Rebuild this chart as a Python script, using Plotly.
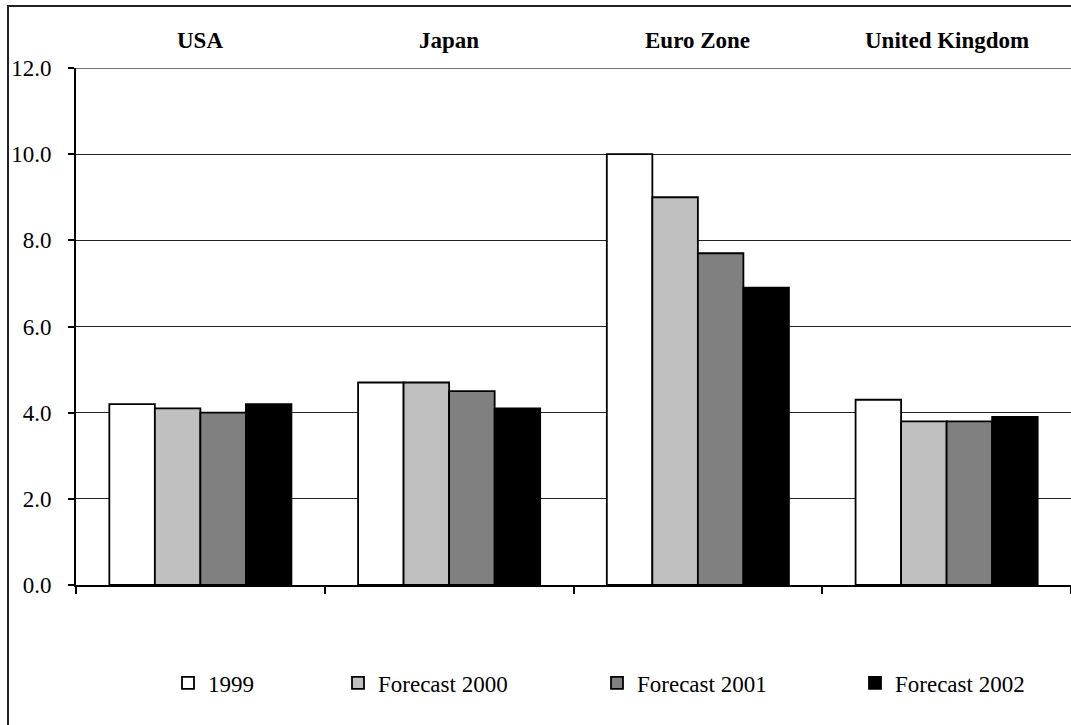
import plotly.graph_objects as go

# Regions and series values
regions = ["USA", "Japan", "Euro Zone", "United Kingdom"]
series_names = ["1999", "Forecast 2000", "Forecast 2001", "Forecast 2002"]
values_1999 = [4.2, 4.7, 10.0, 4.3]
values_2000 = [4.1, 4.7, 9.0, 3.8]
values_2001 = [4.0, 4.5, 7.7, 3.8]
values_2002 = [4.2, 4.1, 6.9, 3.9]
series_values = [values_1999, values_2000, values_2001, values_2002]
series_colors = ["#FFFFFF", "#C0C0C0", "#808080", "#000000"]
y_ticks = [0, 2, 4, 6, 8, 10, 12]

W, H = 1071, 725
SERIF = "Liberation Serif, Times New Roman, serif"

legend_names = ["legend", "legend2", "legend3", "legend4"]
legend_x = [168, 338, 597, 855]  # left edge in px

fig = go.Figure()
for name, vals, col, lg in zip(series_names, series_values, series_colors, legend_names):
    fig.add_trace(go.Bar(
        x=regions, y=vals, name=name,
        marker=dict(color=col, line=dict(color="#000000", width=1.8)),
        legend=lg,
    ))

layout_legends = {}
for lg, lx in zip(legend_names, legend_x):
    layout_legends[lg] = dict(
        x=lx / W, xanchor="left", y=1 - 683 / H, yanchor="middle",
        orientation="h", bgcolor="rgba(0,0,0,0)",
        font=dict(family=SERIF, size=23, color="#000000"),
        itemwidth=30,
    )

fig.update_layout(
    width=W, height=H,
    margin=dict(l=0, r=0, t=0, b=0, pad=0, autoexpand=False),
    paper_bgcolor="#FFFFFF", plot_bgcolor="#FFFFFF",
    barmode="group", bargap=0.268, bargroupgap=0,
    showlegend=True,
    font=dict(family=SERIF, color="#000000"),
    xaxis=dict(
        domain=[76 / W, 1.0], range=[-0.5, 3.5],
        showticklabels=False, showgrid=False,
        showline=True, linecolor="#000000", linewidth=2,
        ticks="outside", tickson="boundaries", ticklen=7, tickwidth=2,
        tickcolor="#000000",
    ),
    yaxis=dict(
        domain=[1 - 585 / H, 1 - 68 / H], range=[0, 12],
        tickvals=y_ticks, tickformat=".1f",
        tickfont=dict(family=SERIF, size=23, color="#000000"),
        showgrid=True, gridcolor="#222222", gridwidth=1,
        showline=True, linecolor="#000000", linewidth=2,
        ticks="outside", ticklen=6, tickwidth=2, tickcolor="#000000",
        zeroline=False, ticklabelstandoff=12,
    ),
    **layout_legends,
)

# Top gridline at the axis maximum
fig.add_shape(
    type="line", xref="paper", yref="y",
    x0=76 / W, x1=1.0, y0=max(y_ticks), y1=max(y_ticks),
    line=dict(color="#444444", width=1.5), layer="below",
)

# Region titles above the plot
for r in regions:
    fig.add_annotation(
        x=r, xref="x", y=1 - 40 / H, yref="paper",
        text="<b>" + r + "</b>", showarrow=False,
        font=dict(family=SERIF, size=23, color="#000000"),
        xanchor="center", yanchor="middle",
    )

# Chart frame
fig.add_shape(
    type="rect", xref="paper", yref="paper",
    x0=8 / W, x1=1.02, y0=-0.02, y1=1 - 6 / H,
    line=dict(color="#222222", width=2), layer="below",
)

fig.write_html("out.html")
